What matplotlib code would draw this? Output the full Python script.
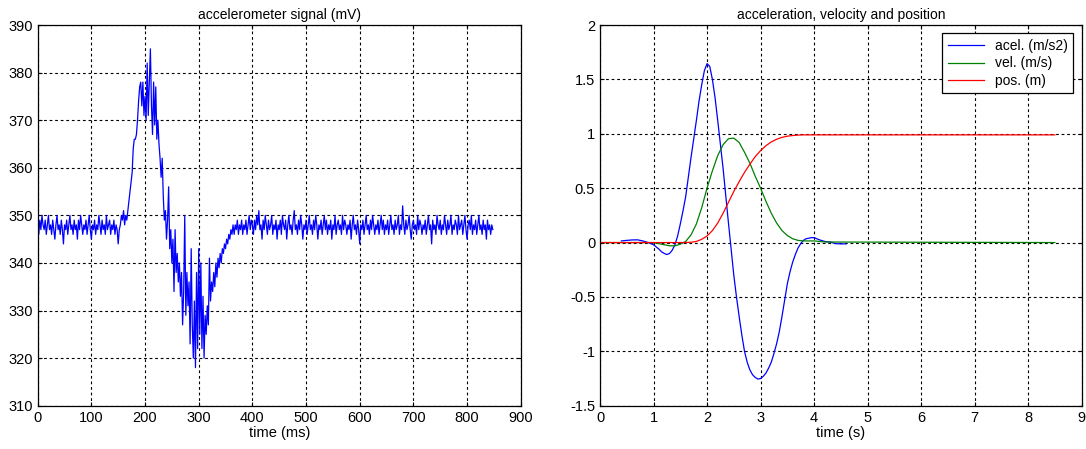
import numpy as np
import matplotlib
matplotlib.use('Agg')
import matplotlib.pyplot as plt

plt.rcParams['font.family'] = ['Liberation Sans', 'DejaVu Sans']

# accelerometer samples, one every 2 ms (mV)
signal_mv = [
    348, 346, 349, 347, 350, 348, 347, 349, 346, 348, 350, 347, 348, 346, 349, 347, 345, 348, 350, 347, 348, 346, 349, 347, 344,
    348, 347, 349, 346, 348, 350, 347, 348, 346, 349, 347, 348, 345, 349, 347, 350, 348, 346, 348, 347, 349, 346, 348, 350, 347,
    345, 348, 347, 349, 346, 348, 347, 350, 348, 346, 349, 347, 348, 346, 350, 347, 348, 349, 346, 348, 347, 349, 346, 348, 347,
    344, 347, 348, 350, 349, 351, 348, 350, 349, 351, 353, 355, 357, 359, 364, 366, 366, 367, 370, 374, 377, 378, 373, 378, 371,
    375, 370, 382, 371, 378, 385, 373, 367, 378, 369, 377, 366, 370, 365, 362, 358, 362, 354, 349, 351, 345, 349, 356, 343, 347,
    340, 345, 334, 347, 338, 342, 336, 340, 333, 338, 327, 334, 350, 329, 338, 331, 336, 323, 343, 327, 320, 332, 318, 338, 322,
    343, 325, 340, 322, 333, 320, 329, 325, 331, 327, 341, 332, 336, 334, 338, 335, 340, 337, 341, 339, 342, 340, 343, 342, 344,
    343, 345, 344, 346, 345, 347, 346, 348, 346, 348, 347, 349, 346, 348, 347, 349, 346, 348, 347, 349, 346, 348, 350, 347, 349,
    348, 346, 349, 347, 350, 348, 351, 347, 348, 345, 349, 347, 350, 348, 346, 349, 347, 348, 350, 346, 348, 347, 349, 345, 348,
    347, 349, 346, 350, 348, 347, 349, 345, 348, 350, 347, 348, 346, 349, 351, 347, 348, 346, 349, 347, 350, 348, 345, 348, 347,
    349, 346, 348, 350, 347, 348, 346, 349, 347, 350, 348, 345, 348, 347, 349, 346, 348, 350, 347, 349, 346, 348, 347, 349, 345,
    348, 347, 350, 346, 348, 349, 347, 348, 346, 350, 347, 349, 348, 346, 348, 347, 349, 345, 348, 350, 347, 348, 346, 349, 347,
    344, 348, 347, 349, 346, 348, 350, 347, 348, 346, 349, 347, 350, 348, 346, 348, 347, 349, 346, 348, 350, 347, 349, 346, 348,
    347, 349, 346, 348, 350, 347, 348, 346, 349, 347, 348, 350, 346, 348, 347, 352, 348, 346, 349, 347, 348, 350, 347, 345, 348,
    349, 347, 348, 346, 350, 347, 349, 348, 346, 348, 347, 349, 346, 348, 350, 347, 348, 344, 349, 347, 348, 346, 350, 348, 347,
    349, 346, 348, 347, 350, 348, 346, 349, 347, 348, 350, 346, 348, 347, 349, 348, 346, 350, 347, 348, 349, 346, 348, 350, 347,
    345, 348, 349, 347, 350, 346, 348, 347, 349, 346, 348, 350, 347, 348, 346, 349, 347, 348, 345, 349, 347, 348, 346, 348, 347,
]
t_ms = np.arange(len(signal_mv)) * 2

# acceleration (m/s2)
acel_t = [0.4, 0.5, 0.6, 0.7, 0.8, 0.9,
          1.0, 1.05, 1.1, 1.15, 1.2, 1.25, 1.3, 1.35, 1.4, 1.45,
          1.5, 1.55, 1.6, 1.65, 1.7, 1.75, 1.8, 1.85, 1.9, 1.95,
          2.0, 2.05, 2.1, 2.15, 2.2, 2.25, 2.3, 2.35, 2.4, 2.45,
          2.5, 2.55, 2.6, 2.65, 2.7, 2.75, 2.8, 2.85, 2.9, 2.95,
          3.0, 3.05, 3.1, 3.15, 3.2, 3.25, 3.3, 3.35, 3.4, 3.45,
          3.5, 3.55, 3.6, 3.65, 3.7, 3.75, 3.8, 3.85, 3.9, 3.95,
          4.0, 4.1, 4.2, 4.3, 4.4, 4.5, 4.6]
acel = [0.015, 0.02, 0.024, 0.025, 0.015, 0.0,
        -0.02, -0.04, -0.06, -0.085, -0.10, -0.11, -0.10, -0.07, -0.02, 0.06,
        0.17, 0.29, 0.42, 0.60, 0.78, 0.95, 1.12, 1.30, 1.45, 1.58,
        1.645, 1.62, 1.50, 1.33, 1.12, 0.90, 0.68, 0.43, 0.18, -0.06,
        -0.30, -0.50, -0.68, -0.85, -1.00, -1.10, -1.17, -1.215, -1.24, -1.255,
        -1.25, -1.23, -1.20, -1.155, -1.10, -1.02, -0.93, -0.82, -0.68, -0.53,
        -0.38, -0.27, -0.18, -0.11, -0.05, -0.01, 0.02, 0.035, 0.04, 0.045,
        0.045, 0.025, 0.01, 0.005, -0.01, -0.012, -0.012]

# velocity and position, 0 .. 4.2 s every 0.1 s, then flat up to 8.5 s
vp_t = list(np.round(np.arange(0, 4.25, 0.1), 2)) + [8.5]
vel = [0, 0, 0, 0, 0, 0, 0, 0, 0, 0, 0,
       -0.01, -0.02, -0.03, -0.03, -0.015, 0.01, 0.07, 0.17, 0.32, 0.50,
       0.66, 0.80, 0.90, 0.955, 0.96, 0.92, 0.83, 0.73, 0.61, 0.50,
       0.38, 0.27, 0.18, 0.11, 0.065, 0.035, 0.02, 0.015, 0.015, 0.015,
       0.01, 0.005, 0.0]
pos = [0, 0, 0, 0, 0, 0, 0, 0, 0, 0, 0,
       0, 0, 0, 0, 0, 0, 0.003, 0.01, 0.03, 0.06,
       0.11, 0.18, 0.27, 0.37, 0.47, 0.56, 0.645, 0.72, 0.79, 0.845,
       0.89, 0.925, 0.95, 0.967, 0.978, 0.984, 0.988, 0.99, 0.99, 0.99,
       0.99, 0.99, 0.99]

fig = plt.figure(figsize=(10.86, 4.49), dpi=100)
ax1 = fig.add_axes([0.0347, 0.0964, 0.4448, 0.8479])
ax2 = fig.add_axes([0.5525, 0.0964, 0.4435, 0.8479])

def style(ax):
    ax.grid(True, color='black', linestyle=(0, (2.5, 2.5)), linewidth=0.8)
    ax.tick_params(direction='in', length=3, labelsize=10.5, top=True, right=True)
    for s in ax.spines.values():
        s.set_linewidth(0.9)

ax1.plot(t_ms, signal_mv, color='blue', linewidth=0.9)
ax1.set_xlim(0, 900)
ax1.set_ylim(310, 390)
ax1.set_xticks(range(0, 901, 100))
ax1.set_yticks(range(310, 391, 10))
ax1.set_title('accelerometer signal (mV)', fontsize=10, pad=4)
ax1.set_xlabel('time (ms)', fontsize=10.5, labelpad=1)
style(ax1)

ax2.plot(acel_t, acel, color='blue', linewidth=0.9, label='acel. (m/s2)')
ax2.plot(vp_t, vel, color=(0, 0.5, 0), linewidth=0.9, label='vel. (m/s)')
ax2.plot(vp_t, pos, color='red', linewidth=0.9, label='pos. (m)')
ax2.set_xlim(0, 9)
ax2.set_ylim(-1.5, 2)
ax2.set_xticks(range(0, 10))
ax2.set_yticks(np.arange(-1.5, 2.01, 0.5))
ax2.set_yticklabels(['-1.5', '-1', '-0.5', '0', '0.5', '1', '1.5', '2'])
ax2.set_title('acceleration, velocity and position', fontsize=10, pad=4)
ax2.set_xlabel('time (s)', fontsize=10.5, labelpad=1)
style(ax2)
leg = ax2.legend(loc='upper right', fontsize=10, frameon=True, fancybox=False,
                 edgecolor='black', framealpha=1, borderaxespad=0.6,
                 handlelength=2.6, labelspacing=0.25, borderpad=0.4)
leg.get_frame().set_linewidth(0.9)

fig.savefig('out.png', dpi=100, facecolor='white')
